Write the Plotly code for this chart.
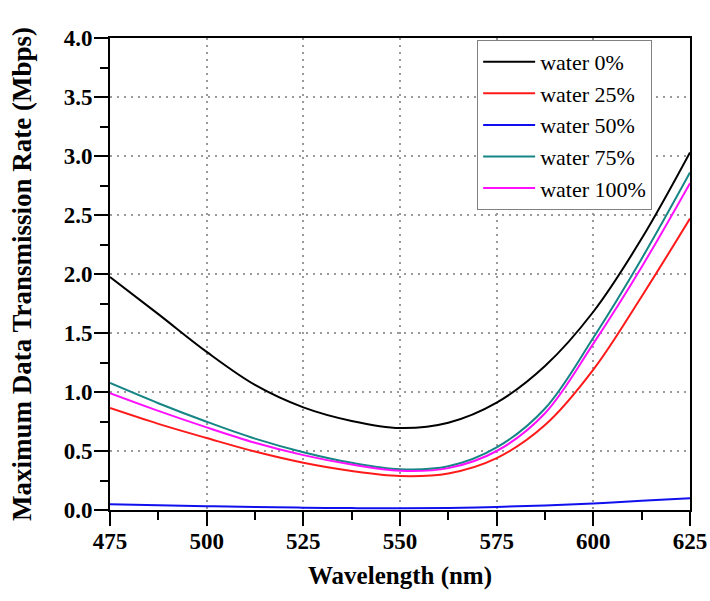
import plotly.graph_objects as go

# Wavelength samples (nm)
wavelength = [475, 487.5, 500, 512.5, 525, 537.5, 550, 562.5, 575, 587.5, 600, 612.5, 625]

# Maximum data transmission rate (Mbps) for each water fraction
water_0 = [1.975, 1.66, 1.34, 1.06, 0.87, 0.755, 0.695, 0.74, 0.91, 1.22, 1.68, 2.30, 3.03]
water_25 = [0.864, 0.73, 0.61, 0.495, 0.40, 0.33, 0.288, 0.31, 0.44, 0.72, 1.19, 1.81, 2.47]
water_50 = [0.048, 0.040, 0.032, 0.025, 0.020, 0.016, 0.014, 0.017, 0.026, 0.038, 0.055, 0.078, 0.100]
water_75 = [1.076, 0.905, 0.748, 0.605, 0.49, 0.40, 0.345, 0.37, 0.53, 0.86, 1.46, 2.13, 2.86]
water_100 = [0.99, 0.84, 0.70, 0.57, 0.465, 0.385, 0.332, 0.355, 0.50, 0.82, 1.41, 2.06, 2.77]

series_names = ["water 0%", "water 25%", "water 50%", "water 75%", "water 100%"]
series_values = [water_0, water_25, water_50, water_75, water_100]
series_colors = ["#000000", "#ff1a1a", "#1010ee", "#158585", "#ff10ff"]

x_ticks = [475, 500, 525, 550, 575, 600, 625]
y_ticks = [0.0, 0.5, 1.0, 1.5, 2.0, 2.5, 3.0, 3.5, 4.0]

serif = "Liberation Serif"

fig = go.Figure()
for name, vals, col in zip(series_names, series_values, series_colors):
    fig.add_trace(go.Scatter(
        x=wavelength, y=vals, name=name, mode="lines",
        line=dict(color=col, width=2, shape="spline", smoothing=1.0),
    ))

axis_common = dict(
    showline=True, linecolor="black", linewidth=2, mirror=True,
    ticks="outside", ticklen=14, tickwidth=2, tickcolor="black",
    showgrid=True, gridcolor="#9a9a9a", griddash="2px,5px", gridwidth=1.5,
    zeroline=False, automargin=False,
    tickfont=dict(family=serif, size=23, color="black", weight="bold"),
)

fig.update_xaxes(
    range=[475, 625], tickvals=x_ticks, ticklabelstandoff=-5,
    minor=dict(ticks="outside", ticklen=8, tickwidth=2, tickcolor="black",
               dtick=12.5, tick0=475, showgrid=False),
    title=dict(text="<b>Wavelength (nm)</b>", standoff=14,
               font=dict(family=serif, size=25, color="black")),
    **axis_common,
)
fig.update_yaxes(
    range=[0, 4], tickvals=y_ticks, tickformat=".1f", ticklabelstandoff=-3,
    minor=dict(ticks="outside", ticklen=8, tickwidth=2, tickcolor="black",
               dtick=0.25, tick0=0, showgrid=False),
    title=dict(text="<b>Maximum Data Transmission Rate (Mbps)</b>", standoff=24,
               font=dict(family=serif, size=27, color="black")),
    **axis_common,
)

fig.update_layout(
    width=710, height=601,
    margin=dict(l=110, r=20, t=38, b=91),
    paper_bgcolor="white", plot_bgcolor="white",
    showlegend=True,
    legend=dict(
        x=0.633, y=0.996, xanchor="left", yanchor="top",
        bgcolor="white", bordercolor="#808080", borderwidth=1,
        font=dict(family=serif, size=22, color="black"),
        itemwidth=52,
    ),
)

fig.write_html("out.html")
